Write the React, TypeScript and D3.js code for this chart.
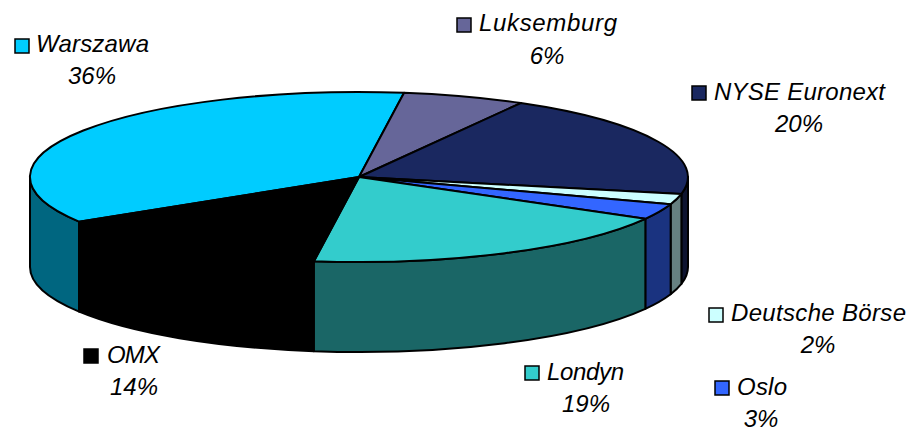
import React from 'react';
import * as d3 from 'd3';

const width = 919;
const height = 430;

// dane (%)
const categories = ['Warszawa', 'Luksemburg', 'NYSE Euronext', 'Deutsche Börse', 'Oslo', 'Londyn', 'OMX'];
const shares = [36, 6, 20, 2, 3, 19, 14];
const topColors = ['#00CCFF', '#666699', '#1A2860', '#CCFFFF', '#3366FF', '#33CCCC', '#000000'];
const sideColors = ['#006680', '#33334D', '#0E1430', '#668080', '#1A3380', '#1A6666', '#000000'];

// uklad etykiet: [x klucza, y klucza, x tekstu, y tekstu, szerokosc tekstu, x srodka %, y %]
const labelLayout = [
  [15, 39, 36, 52, 113, 92, 84],
  [457, 18, 479, 31, 138, 547, 64],
  [692, 86, 714, 100, 171, 799, 132],
  [709, 308, 731, 321, 175, 818, 353],
  [715, 381, 737, 395, 50, 761, 427],
  [525, 366, 547, 380, 77, 586, 412],
  [84, 349, 107, 363, 53, 134, 395],
];

const cx = 359;
const cy = 177;
const rx = 329;
const ry = 85;
const depth = 90;
const keySize = 14;
const rad = Math.PI / 180;
const startDeg = 238.3;

const pie = d3
  .pie<number>()
  .sort(null)
  .startAngle(startDeg * rad)
  .endAngle((startDeg + 360) * rad);

const arcs = pie(shares);

const unitArc = d3.arc<d3.PieArcDatum<number>>().innerRadius(0).outerRadius(1);

const pt = (a: number): [number, number] => [cx + rx * Math.sin(a), cy - ry * Math.cos(a)];

// sciana boczna - tylko przednia czesc elipsy (90-270 stopni)
const wallPath = (a0: number, a1: number) => {
  const [x0, y0] = pt(a0);
  const [x1, y1] = pt(a1);
  const large = a1 - a0 > Math.PI ? 1 : 0;
  return `M${x0},${y0}A${rx},${ry} 0 ${large} 1 ${x1},${y1}L${x1},${y1 + depth}A${rx},${ry} 0 ${large} 0 ${x0},${y0 + depth}Z`;
};

const walls = arcs.flatMap((d) =>
  [0, -2 * Math.PI].flatMap((shift) => {
    const a0 = Math.max(d.startAngle + shift, Math.PI / 2);
    const a1 = Math.min(d.endAngle + shift, (3 * Math.PI) / 2);
    return a1 > a0 ? [{ index: d.index, path: wallPath(a0, a1) }] : [];
  })
);

const App = () => {
  return (
    <svg
      width={width}
      height={height}
      style={{ position: 'fixed', left: 0, top: 0, background: '#fff', display: 'block' }}
      fontFamily="'Liberation Sans', Arial, sans-serif"
      fontStyle="italic"
      fontSize={24}
    >
      {walls.map((w, i) => (
        <path key={i} d={w.path} fill={sideColors[w.index]} stroke="#000" strokeWidth={2} strokeLinejoin="round" />
      ))}
      <g transform={`translate(${cx},${cy}) scale(${rx},${ry})`}>
        {arcs.map((d, i) => (
          <path
            key={i}
            d={unitArc(d) as string}
            fill={topColors[i]}
            stroke="#000"
            strokeWidth={2}
            strokeLinejoin="round"
            vectorEffect="non-scaling-stroke"
          />
        ))}
      </g>
      {categories.map((name, i) => {
        const [kx, ky, tx, ty, tw, px, py] = labelLayout[i];
        return (
          <g key={name}>
            <rect x={kx} y={ky} width={keySize} height={keySize} fill={topColors[i]} stroke="#000" strokeWidth={1.5} />
            <text x={tx} y={ty} fill="#000" textLength={tw} lengthAdjust="spacing">{name}</text>
            <text x={px} y={py} fill="#000" textAnchor="middle">{shares[i]}%</text>
          </g>
        );
      })}
    </svg>
  );
};

export default App;
